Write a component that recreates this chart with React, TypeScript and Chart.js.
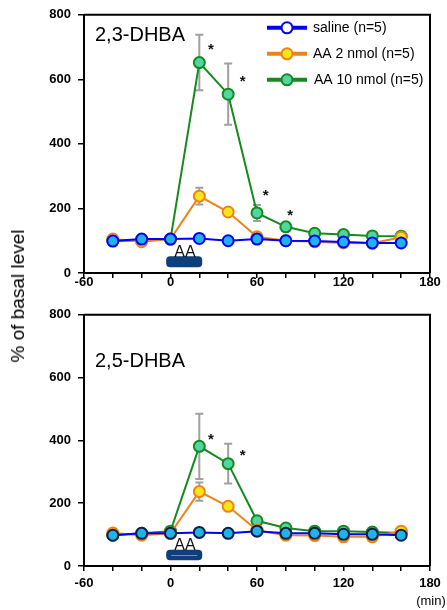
import React, { useEffect, useRef } from 'react';
import { Chart, registerables } from 'chart.js';

Chart.register(...registerables);
Chart.defaults.font.family = '"Liberation Sans", Arial, Helvetica, sans-serif';

// ---------- data ----------
const TIMES = [-40, -20, 0, 20, 40, 60, 80, 100, 120, 140, 160];
const SERIES_NAMES = ['saline (n=5)', 'AA 2 nmol (n=5)', 'AA 10 nmol (n=5)'];
const X_TICK_LABELS = [-60, 0, 60, 120, 180];
const Y_TICK_LABELS = [0, 200, 400, 600, 800];

// 2,3-DHBA panel
const DHBA23_SALINE = [99, 105, 105, 107, 100, 105, 100, 99, 96, 93, 93];
const DHBA23_AA2 = [105, 97, 105, 238, 189, 112, 100, 97, 93, 92, 111];
const DHBA23_AA10 = [100, 100, 105, 652, 554, 186, 143, 123, 119, 115, 114];
const DHBA23_AA2_SEM = [0, 0, 0, 26, 0, 0, 0, 0, 0, 0, 0];
const DHBA23_AA10_SEM = [0, 0, 0, 86, 95, 25, 0, 0, 0, 0, 0];
const DHBA23_STAR_TIMES = [28, 50, 66, 83];
const DHBA23_STAR_VALUES = [700, 602, 247, 185];

// 2,5-DHBA panel
const DHBA25_SALINE = [98, 104, 104, 107, 104, 111, 104, 104, 101, 101, 98];
const DHBA25_AA2 = [105, 98, 104, 237, 190, 114, 98, 97, 93, 93, 111];
const DHBA25_AA10 = [98, 104, 111, 381, 326, 144, 121, 111, 111, 108, 105];
const DHBA25_AA2_SEM = [0, 0, 0, 29, 0, 0, 0, 0, 0, 0, 0];
const DHBA25_AA10_SEM = [0, 0, 0, 104, 63, 0, 0, 0, 0, 0, 0];
const DHBA25_STAR_TIMES = [28, 50];
const DHBA25_STAR_VALUES = [412, 360];

// AA application period (min) and bar extent (% axis)
const AA_BAR_TIMES = [-3, 22];
const AA_BAR_VALUES = [18, 52];
const AA_LABEL_TIME = 10;

// ---------- styles ----------
const BLUE = '#0000ff';
const CYAN = '#1eb4e8';
const ORANGE = '#ee8418';
const YELLOW = '#ffe41a';
const GREEN = '#168a1e';
const MINT = '#4fd6a2';
const GRAY = '#a0a0a0';
const BAR = '#0c3f7c';
const FONT = '"Liberation Sans", Arial, Helvetica, sans-serif';

type PanelCfg = {
  title: string;
  saline: number[];
  aa2: number[];
  aa10: number[];
  aa2Sem: number[];
  aa10Sem: number[];
  starT: number[];
  starV: number[];
  salineBorder: string;
  legend: boolean;
  stripe: boolean;
  width: number;
  height: number;
  padTop: number;
  xAxisHeight: number;
  xLabelPad: number;
  titleDy: number;
  labelDy: number;
};

function makePlugin(cfg: PanelCfg) {
  return {
    id: 'panelExtras',
    beforeDatasetsDraw(chart: any) {
      const { ctx, scales } = chart;
      const x = scales.x;
      const y = scales.y;
      ctx.save();
      // error bars
      ctx.strokeStyle = GRAY;
      ctx.lineWidth = 2;
      const pairs: [number[], number[]][] = [
        [cfg.aa2, cfg.aa2Sem],
        [cfg.aa10, cfg.aa10Sem],
      ];
      pairs.forEach(([m, s]) => {
        m.forEach((v, i) => {
          if (!s[i]) return;
          const px = x.getPixelForValue(TIMES[i]);
          const t = y.getPixelForValue(v + s[i]);
          const b = y.getPixelForValue(v - s[i]);
          ctx.beginPath();
          ctx.moveTo(px, t);
          ctx.lineTo(px, b);
          ctx.moveTo(px - 4, t);
          ctx.lineTo(px + 4, t);
          ctx.moveTo(px - 4, b);
          ctx.lineTo(px + 4, b);
          ctx.stroke();
        });
      });
      // AA bar
      const bx0 = x.getPixelForValue(AA_BAR_TIMES[0]);
      const bx1 = x.getPixelForValue(AA_BAR_TIMES[1]);
      const by0 = y.getPixelForValue(AA_BAR_VALUES[1]);
      const by1 = y.getPixelForValue(AA_BAR_VALUES[0]);
      ctx.fillStyle = BAR;
      ctx.beginPath();
      (ctx as any).roundRect(bx0, by0, bx1 - bx0, by1 - by0, 4);
      ctx.fill();
      if (cfg.stripe) {
        ctx.strokeStyle = '#6f8fc4';
        ctx.lineWidth = 1;
        ctx.beginPath();
        ctx.moveTo(bx0 + 5, (by0 + by1) / 2 + 0.5);
        ctx.lineTo(bx1 - 5, (by0 + by1) / 2 + 0.5);
        ctx.stroke();
      }
      ctx.restore();
    },
    afterDraw(chart: any) {
      const { ctx, scales, chartArea } = chart;
      const x = scales.x;
      const y = scales.y;
      ctx.save();
      // frame top & right
      ctx.strokeStyle = '#000';
      ctx.lineWidth = 2;
      ctx.beginPath();
      ctx.moveTo(chartArea.left, chartArea.top);
      ctx.lineTo(chartArea.right, chartArea.top);
      ctx.lineTo(chartArea.right, chartArea.bottom);
      ctx.stroke();
      // AA label
      ctx.fillStyle = '#111';
      ctx.font = `16px ${FONT}`;
      ctx.textAlign = 'center';
      ctx.textBaseline = 'middle';
      const by0 = y.getPixelForValue(AA_BAR_VALUES[1]);
      ctx.fillText('AA', x.getPixelForValue(AA_LABEL_TIME), by0 + cfg.labelDy);
      // stars
      ctx.font = `bold 15px ${FONT}`;
      cfg.starT.forEach((t, i) => {
        ctx.fillText('*', x.getPixelForValue(t), y.getPixelForValue(cfg.starV[i]) + 3);
      });
      // title
      ctx.textAlign = 'left';
      ctx.font = `20px ${FONT}`;
      ctx.fillStyle = '#000';
      ctx.fillText(cfg.title, chartArea.left + 11, chartArea.top + cfg.titleDy);
      // legend
      if (cfg.legend) {
        const rows = [
          { line: BLUE, fill: '#ffffff', border: BLUE },
          { line: ORANGE, fill: YELLOW, border: ORANGE },
          { line: GREEN, fill: MINT, border: GREEN },
        ];
        rows.forEach((r, i) => {
          const ly = chartArea.top + 13 + i * 26;
          const lx0 = chartArea.left + 183;
          ctx.strokeStyle = r.line;
          ctx.lineWidth = 4;
          ctx.beginPath();
          ctx.moveTo(lx0, ly);
          ctx.lineTo(lx0 + 40, ly);
          ctx.stroke();
          ctx.beginPath();
          ctx.arc(lx0 + 20, ly, 5.5, 0, Math.PI * 2);
          ctx.fillStyle = r.fill;
          ctx.fill();
          ctx.lineWidth = 2;
          ctx.strokeStyle = r.border;
          ctx.stroke();
          ctx.fillStyle = '#000';
          ctx.font = `14px ${FONT}`;
          ctx.textAlign = 'left';
          ctx.fillText(SERIES_NAMES[i], lx0 + 46 + (i === 2 ? 1 : 0), ly);
        });
      }
      ctx.restore();
    },
  };
}

function Panel({ cfg }: { cfg: PanelCfg }) {
  const ref = useRef<HTMLCanvasElement | null>(null);
  useEffect(() => {
    if (!ref.current) return;
    const ds = (label: string, data: number[], line: string, fill: string, border: string) => ({
      label,
      data: TIMES.map((t, i) => ({ x: t, y: data[i] })),
      borderColor: line,
      backgroundColor: fill,
      borderWidth: 2,
      pointRadius: 5.5,
      pointBorderWidth: 2,
      pointBackgroundColor: fill,
      pointBorderColor: border,
      tension: 0,
    });
    const chart = new Chart(ref.current, {
      type: 'line',
      data: {
        datasets: [
          ds(SERIES_NAMES[0], cfg.saline, BLUE, CYAN, cfg.salineBorder),
          ds(SERIES_NAMES[1], cfg.aa2, ORANGE, YELLOW, ORANGE),
          ds(SERIES_NAMES[2], cfg.aa10, GREEN, MINT, GREEN),
        ],
      },
      options: {
        animation: false,
        responsive: false,
        events: [],
        layout: { padding: { top: cfg.padTop, right: 17, left: 0, bottom: 0 } },
        plugins: { legend: { display: false }, tooltip: { enabled: false }, title: { display: false } },
        scales: {
          x: {
            type: 'linear',
            min: X_TICK_LABELS[0],
            max: X_TICK_LABELS[X_TICK_LABELS.length - 1],
            afterFit: (s: any) => {
              s.height = cfg.xAxisHeight;
            },
            afterBuildTicks: (s: any) => {
              const t: any[] = [];
              for (let v = X_TICK_LABELS[0]; v <= X_TICK_LABELS[X_TICK_LABELS.length - 1]; v += 20) t.push({ value: v });
              s.ticks = t;
            },
            ticks: {
              autoSkip: false,
              maxRotation: 0,
              padding: cfg.xLabelPad,
              color: '#000',
              font: { size: 13, weight: 'bold' },
              callback: (v: any) => (X_TICK_LABELS.includes(Number(v)) ? String(v) : ''),
            },
            grid: { drawOnChartArea: false, drawTicks: true, tickLength: 5, color: '#000', lineWidth: 1.5 },
            border: { display: true, color: '#000', width: 2 },
          },
          y: {
            min: 0,
            max: 800,
            afterFit: (s: any) => {
              s.width = 84;
            },
            afterBuildTicks: (s: any) => {
              s.ticks = Y_TICK_LABELS.map((v) => ({ value: v }));
            },
            ticks: {
              padding: 7,
              color: '#000',
              font: { size: 13, weight: 'bold' },
            },
            grid: { drawOnChartArea: false, drawTicks: true, tickLength: 6, color: '#000', lineWidth: 1.5 },
            border: { display: true, color: '#000', width: 2 },
          },
        },
      } as any,
      plugins: [makePlugin(cfg)],
    });
    return () => chart.destroy();
  }, [cfg]);
  return <canvas ref={ref} width={cfg.width} height={cfg.height} style={{ display: 'block', width: cfg.width, height: cfg.height }} />;
}

const TOP: PanelCfg = {
  title: '2,3-DHBA',
  saline: DHBA23_SALINE,
  aa2: DHBA23_AA2,
  aa10: DHBA23_AA10,
  aa2Sem: DHBA23_AA2_SEM,
  aa10Sem: DHBA23_AA10_SEM,
  starT: DHBA23_STAR_TIMES,
  starV: DHBA23_STAR_VALUES,
  salineBorder: BLUE,
  legend: true,
  stripe: false,
  width: 447,
  height: 300,
  padTop: 14,
  xAxisHeight: 27,
  xLabelPad: -3,
  titleDy: 21,
  labelDy: -4,
};

const BOTTOM: PanelCfg = {
  title: '2,5-DHBA',
  saline: DHBA25_SALINE,
  aa2: DHBA25_AA2,
  aa10: DHBA25_AA10,
  aa2Sem: DHBA25_AA2_SEM,
  aa10Sem: DHBA25_AA10_SEM,
  starT: DHBA25_STAR_TIMES,
  starV: DHBA25_STAR_VALUES,
  salineBorder: '#0b1f4a',
  legend: false,
  stripe: true,
  width: 447,
  height: 310,
  padTop: 5,
  xAxisHeight: 44,
  xLabelPad: 5,
  titleDy: 47,
  labelDy: -4,
};

export default function App() {
  return (
    <div style={{ position: 'absolute', left: 0, top: 0, width: 447, height: 610, background: '#fff' }}>
      <div style={{ position: 'absolute', left: 0, top: 0 }}>
        <Panel cfg={TOP} />
      </div>
      <div style={{ position: 'absolute', left: 0, top: 300 }}>
        <Panel cfg={BOTTOM} />
      </div>
      <div
        style={{
          position: 'absolute',
          left: 18,
          top: 296,
          transform: 'translate(-50%, -50%) rotate(-90deg)',
          whiteSpace: 'nowrap',
          fontFamily: FONT,
          fontSize: 19,
          color: '#000',
        }}
      >
        % of basal level
      </div>
      <div
        style={{
          position: 'absolute',
          left: 431,
          top: 600,
          transform: 'translate(-50%, -50%)',
          whiteSpace: 'nowrap',
          fontFamily: FONT,
          fontSize: 13,
          color: '#000',
        }}
      >
        (min)
      </div>
    </div>
  );
}
